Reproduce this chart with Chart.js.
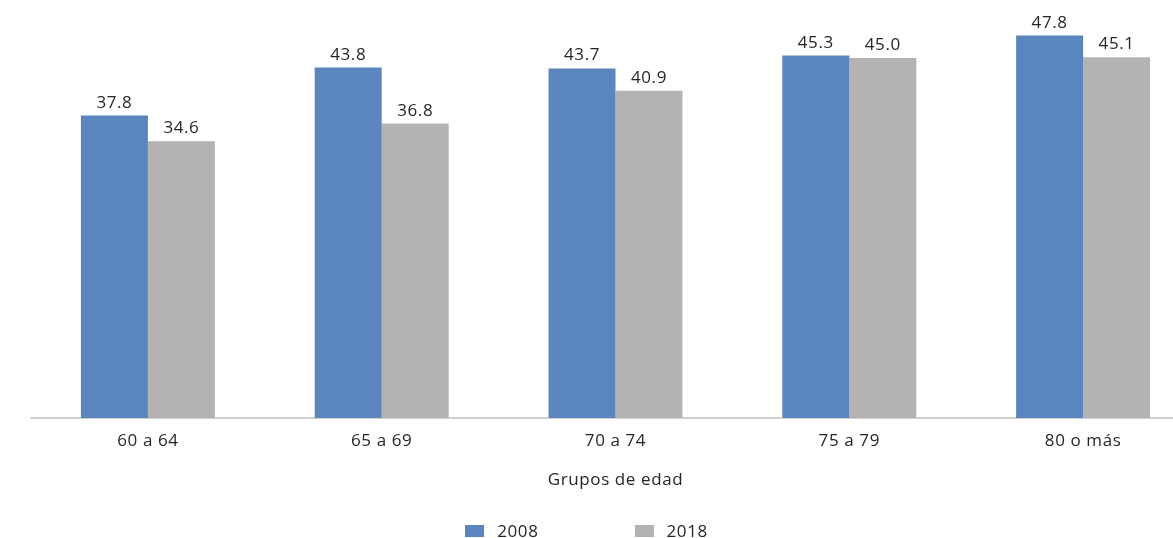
<!DOCTYPE html>
<html lang="es">
<head>
<meta charset="utf-8">
<title>Grupos de edad</title>
<script src="https://cdn.jsdelivr.net/npm/chart.js@4.4.1/dist/chart.umd.min.js"></script>
<style>
  html, body { margin: 0; padding: 0; background: #ffffff; overflow: hidden; }
  #wrap { position: relative; width: 1173px; height: 538px; overflow: hidden; }
  #chart { position: absolute; left: 0; top: 0; }
  #legend {
    position: absolute; left: 0; top: 519px; width: 1173px;
    display: flex; justify-content: center; gap: 96px;
    font-family: "Open Sans", sans-serif; font-size: 17px; letter-spacing: 0.6px; color: #262626;
  }
  #legend .item { display: flex; align-items: center; gap: 13px; line-height: 24px; }
  #legend .swatch { width: 19px; height: 12px; display: inline-block; }
</style>
</head>
<body>
<div id="wrap">
  <canvas id="chart" width="1200" height="538"></canvas>
  <div id="legend"></div>
</div>
<script>
// Grupos de edad y porcentajes por año
const categories = ["60 a 64", "65 a 69", "70 a 74", "75 a 79", "80 o más"];
const values2008 = [37.8, 43.8, 43.7, 45.3, 47.8];
const values2018 = [34.6, 36.8, 40.9, 45.0, 45.1];
const seriesLabels = ["2008", "2018"];
const seriesColors = ["#5b86bd", "#b3b3b3"];

const FONT = '"Open Sans", sans-serif';
const TEXT = "#262626";

// Slightly wider lettering for all canvas text
const wideLetters = {
  id: "wideLetters",
  beforeDraw(chart) { chart.ctx.letterSpacing = "0.6px"; }
};

// Value labels above each bar
const barValueLabels = {
  id: "barValueLabels",
  afterDatasetsDraw(chart) {
    const ctx = chart.ctx;
    ctx.save();
    ctx.font = "17px " + FONT;
    ctx.letterSpacing = "0.6px";
    ctx.fillStyle = TEXT;
    ctx.textAlign = "center";
    ctx.textBaseline = "alphabetic";
    chart.data.datasets.forEach((ds, i) => {
      const meta = chart.getDatasetMeta(i);
      meta.data.forEach((bar, j) => {
        ctx.fillText(ds.data[j].toFixed(1), bar.x, bar.y - 8);
      });
    });
    ctx.restore();
  }
};

const chart = new Chart(document.getElementById("chart"), {
  type: "bar",
  data: {
    labels: categories,
    datasets: [
      { label: seriesLabels[0], data: values2008, backgroundColor: seriesColors[0] },
      { label: seriesLabels[1], data: values2018, backgroundColor: seriesColors[1] }
    ]
  },
  options: {
    responsive: false,
    animation: false,
    devicePixelRatio: 1,
    layout: { padding: { left: 31, top: 18, right: 0, bottom: 0 } },
    datasets: {
      bar: { categoryPercentage: 0.573, barPercentage: 1.0, borderWidth: 0 }
    },
    plugins: {
      legend: { display: false },
      tooltip: { enabled: false }
    },
    scales: {
      x: {
        grid: { display: false, drawTicks: false },
        border: { display: true, color: "#d0d0d0", width: 2 },
        ticks: { color: TEXT, font: { family: FONT, size: 17 }, padding: 13 },
        title: {
          display: true, text: "Grupos de edad", color: TEXT,
          font: { family: FONT, size: 17 }, padding: { top: 4, bottom: 48 }
        },
        afterFit(scale) { scale.height = 120; }
      },
      y: { display: false, min: 0, max: 50 }
    }
  },
  plugins: [wideLetters, barValueLabels]
});

// Legend built from the same datasets
const legend = document.getElementById("legend");
chart.data.datasets.forEach(ds => {
  const item = document.createElement("div");
  item.className = "item";
  const sw = document.createElement("span");
  sw.className = "swatch";
  sw.style.background = ds.backgroundColor;
  const txt = document.createElement("span");
  txt.textContent = ds.label;
  item.appendChild(sw);
  item.appendChild(txt);
  legend.appendChild(item);
});
</script>
</body>
</html>
